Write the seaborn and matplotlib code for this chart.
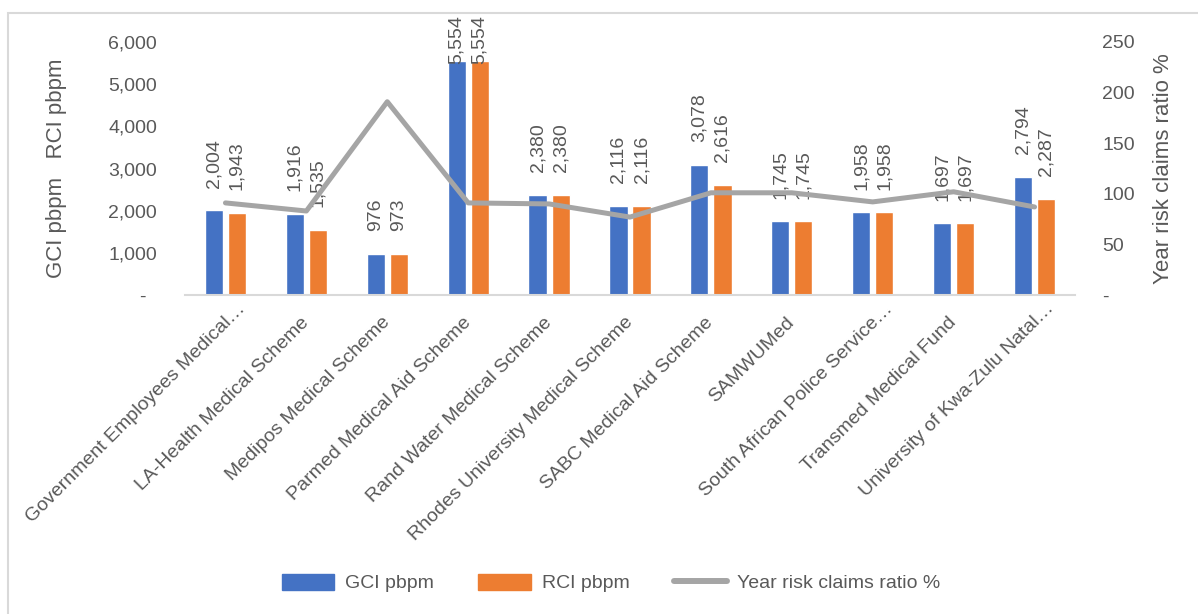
import numpy as np
import pandas as pd
import matplotlib
matplotlib.use("Agg")
import matplotlib.pyplot as plt
import seaborn as sns
from matplotlib.ticker import FuncFormatter, FixedLocator
from matplotlib.patches import Rectangle, Patch
from matplotlib.lines import Line2D
from matplotlib.transforms import ScaledTranslation

schemes = [
    "Government Employees Medical…",
    "LA-Health Medical Scheme",
    "Medipos Medical Scheme",
    "Parmed Medical Aid Scheme",
    "Rand Water Medical Scheme",
    "Rhodes University Medical Scheme",
    "SABC Medical Aid Scheme",
    "SAMWUMed",
    "South African Police Service…",
    "Transmed Medical Fund",
    "University of Kwa-Zulu Natal…",
]
gci_pbpm = [2004, 1916, 976, 5554, 2380, 2116, 3078, 1745, 1958, 1697, 2794]
rci_pbpm = [1943, 1535, 973, 5554, 2380, 2116, 2616, 1745, 1958, 1697, 2287]
claims_ratio = [91, 83, 191, 91, 90, 77, 101, 101, 92, 102, 87]
series_names = ["GCI pbpm", "RCI pbpm", "Year risk claims ratio %"]

BLUE = "#4472C4"
ORANGE = "#ED7D31"
GRAY = "#A5A5A5"
TEXT = "#595959"
LINEC = "#D9D9D9"
FS = 14
FS_LAB = 16

sns.set_theme(style="white")
plt.rcParams["font.family"] = ["Liberation Sans Narrow", "Liberation Sans", "DejaVu Sans"]

df = pd.DataFrame({
    "scheme": schemes * 2,
    "value": gci_pbpm + rci_pbpm,
    "series": [series_names[0]] * len(schemes) + [series_names[1]] * len(schemes),
})

W, H = 1198, 614
fig = plt.figure(figsize=(W / 100, H / 100), dpi=100)
fig.patch.set_facecolor("white")
ax = fig.add_axes([185 / W, 1 - 295 / H, 890 / W, 253 / H])

sns.barplot(data=df, x="scheme", y="value", hue="series",
            palette=[BLUE, ORANGE], saturation=1, width=0.57, gap=0.214,
            ax=ax, legend=False)

ax.set_ylim(0, 6000)
ax.yaxis.set_major_locator(FixedLocator(np.arange(0, 6001, 1000)))
ax.yaxis.set_major_formatter(FuncFormatter(lambda v, p: "-  " if v == 0 else f"{v:,.0f}"))
ax.tick_params(axis="y", length=0, pad=20, labelsize=FS, labelcolor=TEXT)
ax.set_xticks(range(len(schemes)))
ax.tick_params(axis="x", length=0, labelbottom=False)
ax.set_xlabel("")
ax.set_ylabel("GCI pbpm   RCI pbpm", fontsize=FS_LAB, color=TEXT)
ax.yaxis.set_label_coords(-0.133, 0.5)

# category labels, rotated 45 degrees, right end at the category
for i, name in enumerate(schemes):
    if name.endswith("…"):
        dx, dy = 0.17, -0.11
    else:
        dx, dy = 0.0, -0.25
    tr = ax.get_xaxis_transform() + ScaledTranslation(dx, dy, fig.dpi_scale_trans)
    ax.text(i, 0, name, transform=tr, rotation=45, ha="right", va="center",
            rotation_mode="anchor", fontsize=FS, color=TEXT, clip_on=False)

for s in ["top", "left", "right"]:
    ax.spines[s].set_visible(False)
ax.spines["bottom"].set_color(LINEC)
ax.spines["bottom"].set_linewidth(1.5)

# data labels
for cont, vals in zip(ax.containers, [gci_pbpm, rci_pbpm]):
    for bar, v in zip(cont, vals):
        off = -2 if v > 0.85 * 6000 else 16.5
        ax.annotate(f"{v:,}", (bar.get_x() + bar.get_width() / 2, bar.get_height()),
                    xytext=(0, off), textcoords="offset points", rotation=90,
                    ha="center", va="bottom", fontsize=FS, color=TEXT,
                    annotation_clip=False)

ax2 = ax.twinx()
sns.lineplot(x=np.arange(len(schemes)), y=claims_ratio, ax=ax2, color=GRAY,
             linewidth=3.6, legend=False)
ax2.set_ylim(0, 250)
ax2.yaxis.set_major_locator(FixedLocator(np.arange(0, 251, 50)))
ax2.yaxis.set_major_formatter(FuncFormatter(lambda v, p: "-" if v == 0 else f"{v:.0f}"))
ax2.tick_params(axis="y", length=0, pad=19.5, labelsize=FS, labelcolor=TEXT)
ax2.set_ylabel("Year risk claims ratio %", fontsize=FS_LAB, color=TEXT)
ax2.yaxis.set_label_coords(1.0876, 0.5)
for s in ax2.spines.values():
    s.set_visible(False)
ax.set_xlim(-0.5, len(schemes) - 0.5)
ax2.set_xlim(-0.5, len(schemes) - 0.5)

handles = [Patch(color=BLUE), Patch(color=ORANGE),
           Line2D([0], [0], color=GRAY, lw=4.3, solid_capstyle="round")]
fig.legend(handles, series_names, loc="center", bbox_to_anchor=(611 / W, 1 - 583 / H),
           ncol=3, frameon=False, fontsize=FS, labelcolor=TEXT,
           handlelength=2.7, handletextpad=0.55, columnspacing=2.3, handleheight=0.9)

fig.add_artist(Rectangle((8 / W, -0.05), 1.2, 1 - 13 / H + 0.05, transform=fig.transFigure,
                         fill=False, edgecolor=LINEC, linewidth=1.5))

fig.savefig("out.png", dpi=100)
